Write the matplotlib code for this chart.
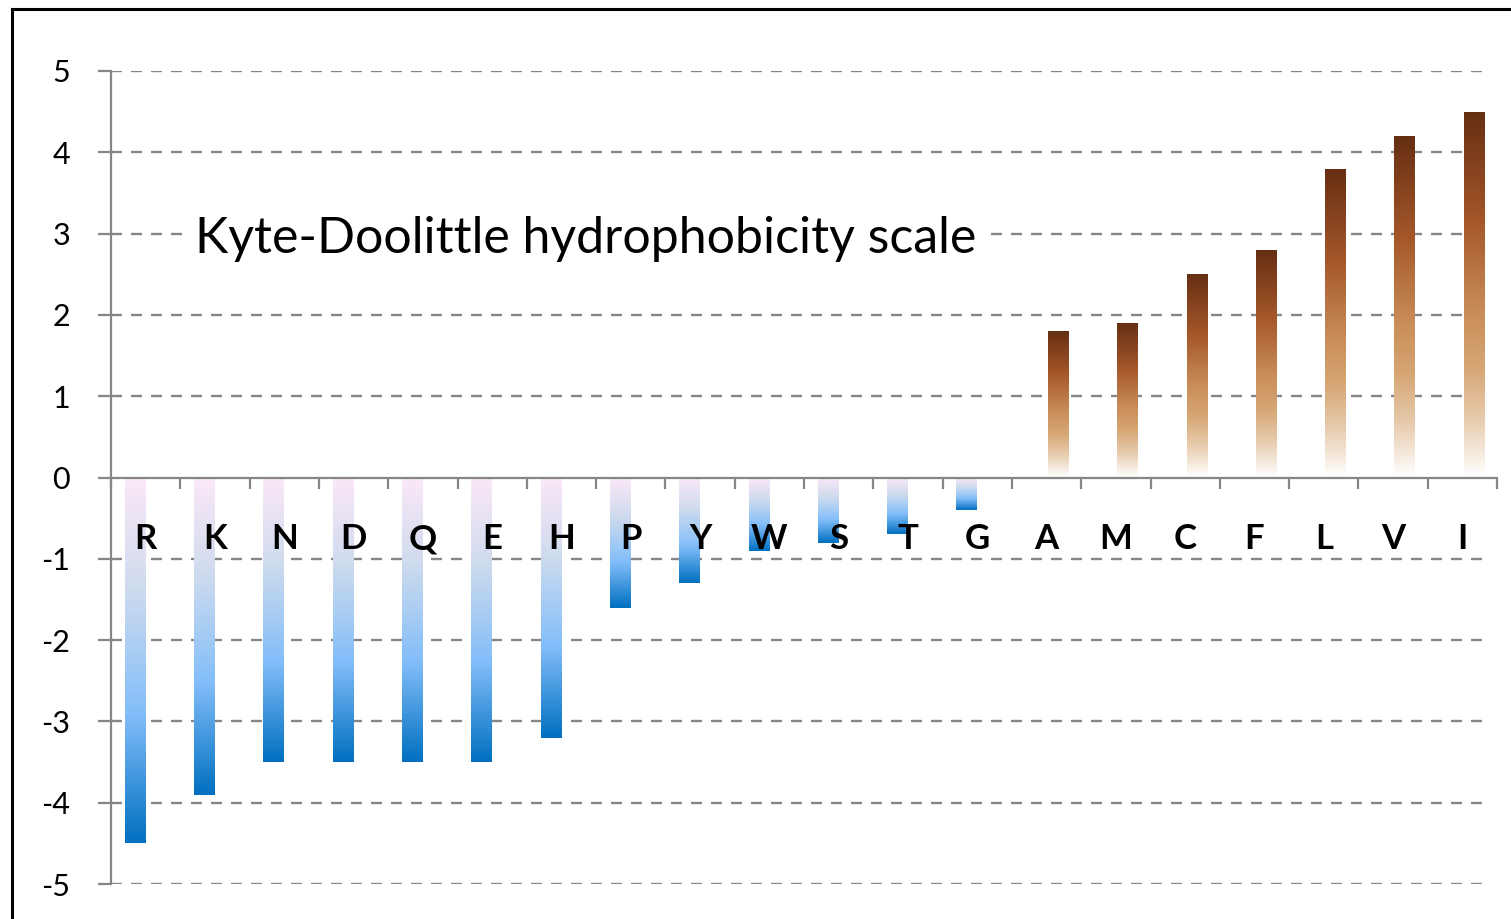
import numpy as np
import matplotlib
matplotlib.use("Agg")
import matplotlib.pyplot as plt
from matplotlib.colors import LinearSegmentedColormap
from matplotlib.lines import Line2D

plt.rcParams['axes.unicode_minus'] = False
plt.rcParams['lines.scale_dashes'] = False

# Kyte-Doolittle hydropathy index per amino acid
residues = ["R", "K", "N", "D", "Q", "E", "H", "P", "Y", "W",
            "S", "T", "G", "A", "M", "C", "F", "L", "V", "I"]
hydropathy = [-4.5, -3.9, -3.5, -3.5, -3.5, -3.5, -3.2, -1.6, -1.3, -0.9,
              -0.8, -0.7, -0.4, 1.8, 1.9, 2.5, 2.8, 3.8, 4.2, 4.5]
y_ticks = [-5, -4, -3, -2, -1, 0, 1, 2, 3, 4, 5]
title_text = "Kyte-Doolittle hydrophobicity scale"

GRID = "#868686"
FONT = "Lato"

hydrophilic_cmap = LinearSegmentedColormap.from_list(
    "hydrophilic", [(0.0, "#FBE8F8"), (0.3, "#CFDBEE"), (0.5, "#A3CBF4"),
                    (0.65, "#82BDFA"), (1.0, "#0070C0")])
hydrophobic_cmap = LinearSegmentedColormap.from_list(
    "hydrophobic", [(0.0, "#652E12"), (0.3, "#A5572A"), (0.55, "#C98D5A"),
                    (0.7, "#D6A673"), (0.85, "#E8CDB0"), (1.0, "#FFFFFF")])

fig = plt.figure(figsize=(15.11, 9.19), dpi=100)
W, H = 1511, 919
ax = fig.add_axes([111 / W, 1 - 884 / H, (1497 - 111) / W, (884 - 71) / H])

x = np.arange(len(residues))
vals = np.array(hydropathy)
neg = np.where(vals < 0, vals, 0.0)
pos = np.where(vals > 0, vals, 0.0)
bar_w = 0.29
neg_bars = ax.bar(x - 0.155, neg, width=bar_w, facecolor="none", edgecolor="none")
pos_bars = ax.bar(x + 0.165, pos, width=bar_w, facecolor="none", edgecolor="none")

grad = np.linspace(0, 1, 256).reshape(-1, 1)


def fill_gradient(bars, cmap):
    """Paint each bar with a vertical gradient; row 0 of the image is the bar top."""
    for p in bars:
        h = p.get_height()
        if h == 0:
            continue
        l, r = p.get_x(), p.get_x() + p.get_width()
        b0, b1 = p.get_y(), p.get_y() + h
        top, bottom = max(b0, b1), min(b0, b1)
        im = ax.imshow(cmap(grad), extent=(l, r, bottom, top), aspect="auto",
                       origin="upper", zorder=1, interpolation="bilinear")
        im.set_clip_path(p)


fill_gradient(neg_bars, hydrophilic_cmap)
fill_gradient(pos_bars, hydrophobic_cmap)

# dashed horizontal gridlines
for t in y_ticks:
    if t == 0:
        continue
    ax.axhline(t, color=GRID, lw=1.7, dashes=(7.9, 6.5), zorder=0.5,
               xmin=0, xmax=0.995)

ax.set_xlim(-0.5, len(residues) - 0.5)
ax.set_ylim(-5, 5)

for s in ["top", "right"]:
    ax.spines[s].set_visible(False)
ax.spines["left"].set_color(GRID)
ax.spines["left"].set_linewidth(1.6)
ax.spines["bottom"].set_position(("data", 0))
ax.spines["bottom"].set_color(GRID)
ax.spines["bottom"].set_linewidth(1.6)

ax.set_yticks(y_ticks)
ax.set_yticklabels([str(t) for t in y_ticks], fontsize=22, family=FONT)
ax.tick_params(axis="y", length=9.4, width=1.6, color=GRID, pad=20)

ax.set_xticks(np.arange(-0.5, len(residues)), minor=False)
ax.set_xticklabels([])
ax.set_xticks(x, minor=True)
ax.set_xticklabels(residues, minor=True, fontsize=25, fontweight="bold", family=FONT)
ax.tick_params(axis="x", which="major", length=8, width=1.6, color=GRID, direction="out")
ax.tick_params(axis="x", which="minor", length=0, pad=33)

ax.text(0.71, 2.93, title_text, fontsize=36, family=FONT, va="center", ha="left",
        zorder=3, bbox=dict(facecolor="white", edgecolor="none", pad=8))

# outer frame
fig.add_artist(Line2D([11.5 / W, 1.0], [1 - 9 / H, 1 - 9 / H], color="black", lw=2.2,
                      transform=fig.transFigure))
fig.add_artist(Line2D([11.5 / W, 11.5 / W], [0.0, 1 - 9 / H], color="black", lw=2.2,
                      transform=fig.transFigure))

fig.savefig("out.png", dpi=100, facecolor="white")
